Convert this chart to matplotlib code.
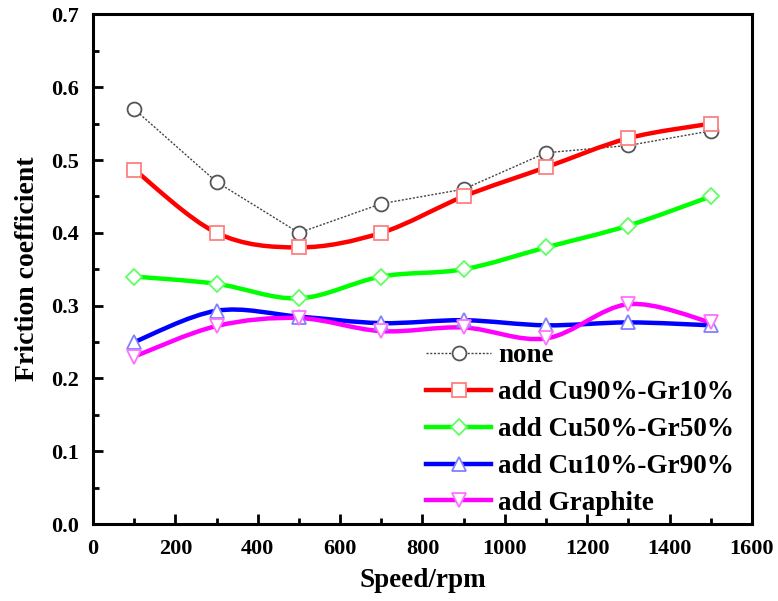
import matplotlib
matplotlib.use("Agg")
import matplotlib.pyplot as plt
from matplotlib.path import Path
from matplotlib.patches import PathPatch
from matplotlib.lines import Line2D
from matplotlib.ticker import MultipleLocator
import numpy as np

plt.rcParams['font.family'] = 'Liberation Serif'
plt.rcParams['font.weight'] = 'bold'

# Data
speed = [100, 300, 500, 700, 900, 1100, 1300, 1500]
none = [0.57, 0.47, 0.40, 0.44, 0.46, 0.51, 0.52, 0.54]
cu90 = [0.487, 0.40, 0.38, 0.40, 0.45, 0.49, 0.53, 0.55]
cu50 = [0.34, 0.33, 0.31, 0.34, 0.35, 0.38, 0.41, 0.45]
cu10 = [0.25, 0.293, 0.285, 0.276, 0.28, 0.273, 0.277, 0.273]
graphite = [0.23, 0.272, 0.283, 0.265, 0.27, 0.255, 0.302, 0.277]


def smooth_path(x, y):
    # Catmull-Rom curve through the points, drawn as cubic Bezier segments
    p = np.column_stack([x, y]).astype(float)
    ext = np.vstack([p[0], p, p[-1]])
    verts = [p[0]]
    codes = [Path.MOVETO]
    for i in range(1, len(ext) - 2):
        p0, p1, p2, p3 = ext[i - 1], ext[i], ext[i + 1], ext[i + 2]
        verts += [p1 + (p2 - p0) / 6, p2 - (p3 - p1) / 6, p2]
        codes += [Path.CURVE4] * 3
    return Path(verts, codes)


fig = plt.figure(figsize=(7.78, 6.01), dpi=100)
ax = fig.add_axes([0.1195, 0.128, 0.847, 0.848])

ms = 10
handles = []

# none: straight dotted line
h, = ax.plot(speed, none, ls=(0, (1.5, 1.2)), color='#444444', lw=1.0,
             marker='o', ms=ms, mfc='white', mec='#555555', mew=1.3)
handles.append(h)

series = [
    (cu90, '#ff0000', '#ff8080', 's', 'add Cu90%-Gr10%'),
    (cu50, '#00ff00', '#60ff60', 'D', 'add Cu50%-Gr50%'),
    (cu10, '#0000ff', '#8080ff', '^', 'add Cu10%-Gr90%'),
    (graphite, '#ff00ff', '#ff70ff', 'v', 'add Graphite'),
]
for vals, col, mcol, mk, lab in series:
    ax.add_patch(PathPatch(smooth_path(speed, vals), fill=False,
                           edgecolor=col, lw=3.2, zorder=2))
    msize = ms * 0.85 if mk == 'D' else ms
    ax.plot(speed, vals, ls='none', marker=mk, ms=msize, mfc='white',
            mec=mcol, mew=1.3, zorder=3)
    handles.append(Line2D([], [], color=col, lw=3.2, marker=mk, ms=msize,
                          mfc='white', mec=mcol, mew=1.3))

labels = ['none'] + [s[4] for s in series]
ax.legend(handles, labels, loc='lower right', bbox_to_anchor=(0.985, 0.0),
          frameon=False, fontsize=19.5, handlelength=2.4, handletextpad=0.25,
          labelspacing=0.44, borderaxespad=0.1, borderpad=0.2)

ax.set_xlim(0, 1600)
ax.set_ylim(0, 0.7)
ax.xaxis.set_major_locator(MultipleLocator(200))
ax.xaxis.set_minor_locator(MultipleLocator(100))
ax.yaxis.set_major_locator(MultipleLocator(0.1))
ax.yaxis.set_minor_locator(MultipleLocator(0.05))
ax.yaxis.set_major_formatter(plt.FormatStrFormatter('%.1f'))

for s in ax.spines.values():
    s.set_linewidth(2.2)
ax.tick_params(which='both', direction='in', width=2, labelsize=16)
ax.tick_params(which='major', length=7)
ax.tick_params(which='minor', length=4)
ax.tick_params(axis='x', pad=11)
ax.tick_params(axis='y', pad=10)

ax.set_xlabel('Speed/rpm', fontsize=19.5, fontweight='bold', labelpad=6)
ax.set_ylabel('Friction coefficient', fontsize=20, fontweight='bold', labelpad=8)

fig.savefig('out.png', dpi=100)
